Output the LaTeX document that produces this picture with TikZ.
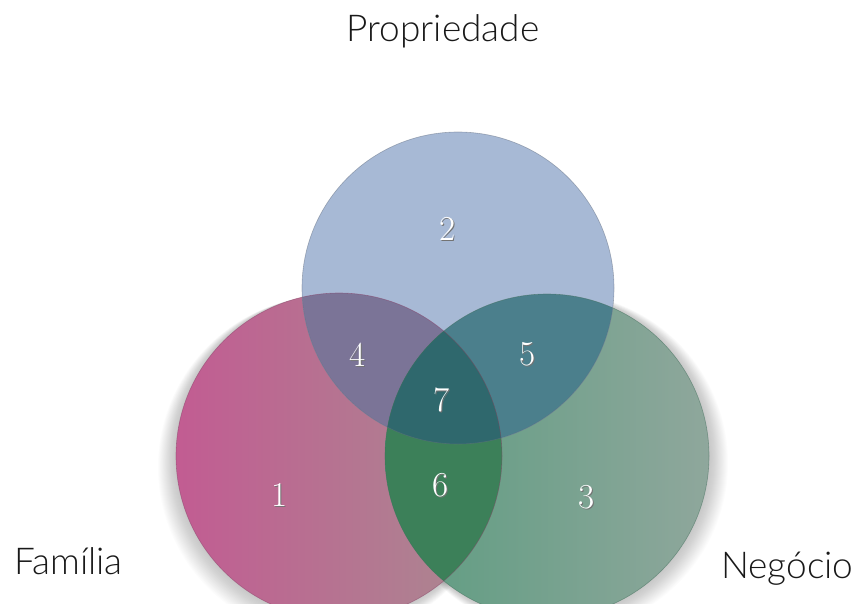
\documentclass[tikz,border=0pt]{standalone}
\usepackage{fontspec}
\usetikzlibrary{calc}
\newfontfamily\ringfont{Lato Light}
\definecolor{pinkL}{HTML}{C25C92}
\definecolor{pinkR}{HTML}{A98B90}
\definecolor{greenL}{HTML}{5C9C80}
\definecolor{greenR}{HTML}{8FA79C}
\definecolor{blueP}{HTML}{A7B9D5}
\definecolor{fourC}{HTML}{7B7497}
\definecolor{fiveC}{HTML}{4B7F8C}
\definecolor{sixC}{HTML}{3C8059}
\definecolor{sevenC}{HTML}{2F686D}
\newcommand{\embossed}[1]{\rlap{\kern0.9pt\raisebox{-0.9pt}{\textcolor{black!55}{#1}}}#1}
\begin{document}
\begin{tikzpicture}[
		x=1pt, y=-1pt,
		ringname/.style={font=\ringfont\fontsize{37}{37}\selectfont, text=black!90, inner sep=0pt, anchor=base},
		digit/.style={font=\fontsize{35}{35}\selectfont, text=white, inner sep=0pt},
		rim/.style={line width=0.6pt, draw opacity=0.5}
	]
	\useasboundingbox (0,0) rectangle (859,604);
	\coordinate (fam) at (339,456);
	\coordinate (prop) at (458,288);
	\coordinate (neg) at (547,456);

	% soft shadows
	\foreach \k in {1,...,20} {
		\fill[black, opacity=0.012] ($(fam)+(-0.5*\k,0.55*\k)$) circle ({163pt+0.4pt*\k});
		\fill[black, opacity=0.012] ($(neg)+(0.55*\k,0.35*\k)$) circle ({162pt+0.4pt*\k});
	}

	% the three sets
	\shade[left color=pinkL, right color=pinkR] (fam) circle (163pt);
	\shade[left color=greenL, right color=greenR] (neg) circle (162pt);
	\fill[blueP] (prop) circle (156pt);

	% overlaps
	\begin{scope}
		\clip (fam) circle (163pt);
		\fill[fourC] (prop) circle (156pt);
	\end{scope}
	\begin{scope}
		\clip (neg) circle (162pt);
		\fill[fiveC] (prop) circle (156pt);
	\end{scope}
	\begin{scope}
		\clip (fam) circle (163pt);
		\fill[sixC] (neg) circle (162pt);
	\end{scope}
	\begin{scope}
		\clip (fam) circle (163pt);
		\clip (neg) circle (162pt);
		\fill[sevenC] (prop) circle (156pt);
	\end{scope}

	% rims
	\draw[rim, draw=pinkL!70!black] (fam) circle (163pt);
	\draw[rim, draw=greenL!70!black] (neg) circle (162pt);
	\draw[rim, draw=blueP!60!black] (prop) circle (156pt);

	% region numbers
	\node[digit] (n1) at (280,495) {\embossed{1}};
	\node[digit] (n2) at (448,229) {\embossed{2}};
	\node[digit] (n3) at (587,498) {\embossed{3}};
	\node[digit] (n4) at (358,355) {\embossed{4}};
	\node[digit] (n5) at (528,355) {\embossed{5}};
	\node[digit] (n6) at (441,486) {\embossed{6}};
	\node[digit] (n7) at (442,400) {\embossed{7}};

	% set names
	\node[ringname] (lprop) at (443,42) {Propriedade};
	\node[ringname, anchor=base west] (lfam) at (14,574) {Família};
	\node[ringname, anchor=base west] (lneg) at (721,578) {Negócio};
\end{tikzpicture}
\end{document}
